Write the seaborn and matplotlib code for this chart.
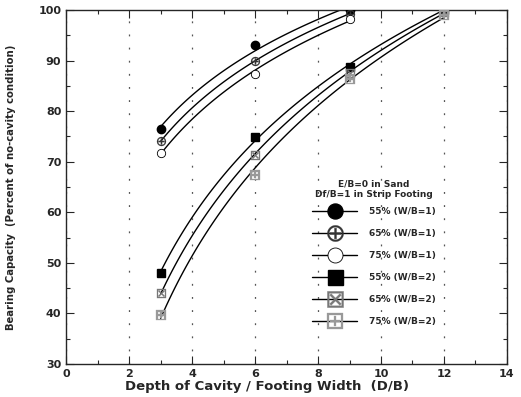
import numpy as np
import pandas as pd
import matplotlib
matplotlib.use("Agg")
import matplotlib.pyplot as plt
from matplotlib.lines import Line2D
from matplotlib.ticker import MultipleLocator
import seaborn as sns

# ==========================================
# DATA
# ==========================================

x_wb1 = [3, 6, 9]
y_55_wb1 = [76.5, 93.0, 100.0]
y_65_wb1 = [74.0, 90.0, 99.2]
y_75_wb1 = [71.8, 87.3, 98.3]

x_wb2 = [3, 6, 9, 12]
y_55_wb2 = [48.0, 74.8, 88.8, 100.0]
y_65_wb2 = [44.0, 71.3, 87.6, 99.6]
y_75_wb2 = [39.7, 67.3, 86.4, 99.0]

labels = [
    "55% (W/B=1)", "65% (W/B=1)", "75% (W/B=1)",
    "55% (W/B=2)", "65% (W/B=2)", "75% (W/B=2)",
]

series = [
    (x_wb1, y_55_wb1), (x_wb1, y_65_wb1), (x_wb1, y_75_wb1),
    (x_wb2, y_55_wb2), (x_wb2, y_65_wb2), (x_wb2, y_75_wb2),
]

# ------------------------------------------
# marker styles
# ------------------------------------------

styles = [
    dict(marker="o", mfc="black", mec="black", ms=6),
    dict(marker=r"$\oplus$", mfc="#333333", mec="#333333", ms=6.5, mew=0.2),
    dict(marker="o", mfc="white", mec="black", ms=6, mew=0.6),
    dict(marker="s", mfc="black", mec="black", ms=6),
    dict(marker=r"$\boxtimes$", mfc="#777777", mec="#777777", ms=6.5, mew=0.2),
    dict(marker=r"$\boxplus$", mfc="#999999", mec="#999999", ms=6.5, mew=0.2),
]

frames = []
for label, (xs, ys) in zip(labels, series):
    frames.append(pd.DataFrame({"x": xs, "y": ys, "series": label}))
df = pd.concat(frames, ignore_index=True)

# ==========================================
# FIGURE
# ==========================================

sns.set_style("ticks")
plt.rcParams["font.family"] = ["DejaVu Sans"]

fig = plt.figure(figsize=(5.21, 3.97), dpi=100)
ax = fig.add_axes([0.127, 0.083, 0.846, 0.892])

# smooth log fits through each series, then the measured points
for label, st in zip(labels, styles):
    sub = df[df["series"] == label]
    sns.regplot(
        data=sub, x="x", y="y", logx=True, ci=None, scatter=False,
        truncate=True, color="black", line_kws=dict(lw=1.0), ax=ax,
    )
    ax.plot(sub["x"], sub["y"], linestyle="none", zorder=5, **st)

ax.set_xlim(0, 14)
ax.set_ylim(30, 100)
ax.xaxis.set_major_locator(MultipleLocator(2))
ax.xaxis.set_minor_locator(MultipleLocator(1))
ax.yaxis.set_major_locator(MultipleLocator(10))
ax.yaxis.set_minor_locator(MultipleLocator(5))

ax.tick_params(which="both", direction="in", top=True, right=True,
               labelsize=8, width=0.8)
ax.tick_params(which="major", length=6)
ax.tick_params(which="minor", length=3)
for t in ax.get_xticklabels() + ax.get_yticklabels():
    t.set_fontweight("bold")

ax.xaxis.grid(True, which="major", color="#555555",
              linestyle=(0, (1.5, 9)), linewidth=0.9)
for sp in ax.spines.values():
    sp.set_linewidth(1.0)

ax.set_xlabel("Depth of Cavity / Footing Width  (D/B)",
              fontsize=9.5, fontweight="bold", labelpad=1)
ax.xaxis.label.set_x(0.456)
ax.set_ylabel("Bearing Capacity  (Percent of no-cavity condition)",
              fontsize=7.3, fontweight="bold", labelpad=16)

handles = []
for st in styles:
    kw = dict(st)
    kw["ms"] = kw["ms"] * 1.8
    handles.append(Line2D([], [], color="black", lw=1.0, **kw))

leg = ax.legend(
    handles, labels, loc="upper left", bbox_to_anchor=(0.54, 0.545),
    frameon=False, handlelength=5.0, handletextpad=1.3, labelspacing=1.45,
    prop=dict(size=6.5, weight="bold"),
    title="E/B=0 in Sand\nDf/B=1 in Strip Footing",
    title_fontproperties=dict(size=6.5, weight="bold"),
)
leg.get_title().set_multialignment("center")
leg._legend_box.sep = 6

fig.savefig("out.png", dpi=100)
